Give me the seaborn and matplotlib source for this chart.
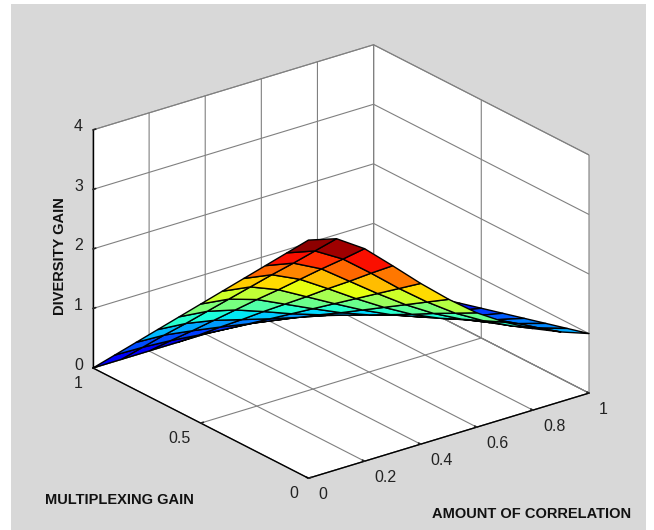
import numpy as np
import pandas as pd
import seaborn as sns
import matplotlib
matplotlib.use("Agg")
import matplotlib.pyplot as plt
from matplotlib.colors import ListedColormap
from matplotlib.patches import Rectangle
from mpl_toolkits.mplot3d import proj3d

correlation = [0.0, 0.1, 0.2, 0.3, 0.4, 0.5, 0.6, 0.7, 0.8, 0.9, 1.0]
multiplexing = [0.0, 0.1, 0.2, 0.3, 0.4, 0.5, 0.6, 0.7, 0.8, 0.9, 1.0]
gain_r00 = [4.00, 3.88, 3.57, 3.14, 2.70, 2.29, 1.92, 1.62, 1.37, 1.17, 1.00]
gain_r01 = [3.60, 3.49, 3.21, 2.83, 2.43, 2.06, 1.73, 1.46, 1.23, 1.05, 0.90]
gain_r02 = [3.20, 3.10, 2.86, 2.51, 2.16, 1.83, 1.54, 1.30, 1.10, 0.94, 0.80]
gain_r03 = [2.80, 2.72, 2.50, 2.20, 1.89, 1.60, 1.34, 1.13, 0.96, 0.82, 0.70]
gain_r04 = [2.40, 2.33, 2.14, 1.88, 1.62, 1.37, 1.15, 0.97, 0.82, 0.70, 0.60]
gain_r05 = [2.00, 1.94, 1.79, 1.57, 1.35, 1.14, 0.96, 0.81, 0.69, 0.59, 0.50]
gain_r06 = [1.60, 1.55, 1.43, 1.26, 1.08, 0.92, 0.77, 0.65, 0.55, 0.47, 0.40]
gain_r07 = [1.20, 1.16, 1.07, 0.94, 0.81, 0.69, 0.58, 0.49, 0.41, 0.35, 0.30]
gain_r08 = [0.80, 0.78, 0.71, 0.63, 0.54, 0.46, 0.38, 0.32, 0.27, 0.23, 0.20]
gain_r09 = [0.40, 0.39, 0.36, 0.31, 0.27, 0.23, 0.19, 0.16, 0.14, 0.12, 0.10]
gain_r10 = [0.00, 0.00, 0.00, 0.00, 0.00, 0.00, 0.00, 0.00, 0.00, 0.00, 0.00]
x_ticks = [0, 0.2, 0.4, 0.6, 0.8, 1]
x_labels = ["0", "0.2", "0.4", "0.6", "0.8", "1"]
y_ticks = [0, 0.5, 1]
y_labels = ["0", "0.5", "1"]
z_ticks = [0, 1, 2, 3, 4]
z_labels = ["0", "1", "2", "3", "4"]

sns.set_theme(style="white")
plt.rcParams["font.family"] = ["Liberation Sans", "DejaVu Sans"]

W, H = 654, 530
fig = plt.figure(figsize=(W / 100, H / 100), dpi=100, facecolor="white")
fig.add_artist(Rectangle((11 / W, 0), 635 / W, 526 / H, transform=fig.transFigure,
                         facecolor="#d8d8d8", edgecolor="none", zorder=-10))

ax = fig.add_axes([0.1, 0.1, 0.8, 0.8], projection="3d", proj_type="ortho")
ax.patch.set_alpha(0)
ax.view_init(elev=23.2, azim=-127.6)
ax.set_box_aspect((354, 353, 259))

X, Y = np.meshgrid(correlation, multiplexing)
Z = np.array([gain_r00, gain_r01, gain_r02, gain_r03, gain_r04, gain_r05,
              gain_r06, gain_r07, gain_r08, gain_r09, gain_r10])
jet = ListedColormap(sns.mpl_palette("jet", 64))
colors = jet(plt.Normalize(0, 4)(Z))
ax.plot_surface(X, Y, Z, facecolors=colors, rstride=1, cstride=1, shade=False,
                edgecolor="black", linewidth=1.0, antialiased=True)

ax.set_xlim(0, 1)
ax.set_ylim(0, 1)
ax.set_zlim(0, 4)
ax.set_xticks(x_ticks, [""] * len(x_ticks))
ax.set_yticks(y_ticks, [""] * len(y_ticks))
ax.set_zticks(z_ticks, [""] * len(z_ticks))

for axis in (ax.xaxis, ax.yaxis, ax.zaxis):
    axis.set_pane_color((1, 1, 1, 1))
    axis.pane.set_edgecolor("#8c8c8c")
    axis.pane.set_linewidth(0.8)
    axis.line.set_color("black")
    axis.line.set_linewidth(1.0)
    axis._axinfo["grid"].update(color="#808080", linewidth=0.8, linestyle="-")
    axis._axinfo["tick"].update(inward_factor=0.0, outward_factor=0.12)
ax.grid(True)


# Fit the 3D box to the reference's frame (left and right corners).
def corner_px(a, b, c):
    px, py, _ = proj3d.proj_transform(a, b, c, ax.get_proj())
    return ax.transData.transform((px, py))


fig.canvas.draw()
left, right = corner_px(0, 1, 0), corner_px(1, 0, 0)
scale = (589 - 93) / (right[0] - left[0])
pos = ax.get_position()
ax.set_position([pos.x0, pos.y0, pos.width * scale, pos.height * scale])
fig.canvas.draw()
left = corner_px(0, 1, 0)
dx = (93 - left[0]) / W
dy = ((H - 368) - left[1]) / H
pos = ax.get_position()
ax.set_position([pos.x0 + dx, pos.y0 + dy, pos.width, pos.height])
fig.canvas.draw()


# Tick labels sit at a fixed pixel offset from the projected tick position.
def tick_text(point, label, ox, oy, ha):
    px = corner_px(*point)
    fig.text((px[0] + ox) / W, (px[1] - oy) / H, label, ha=ha, va="center",
             fontsize=11.5, color="#222222")


for v, lab in zip(x_ticks, x_labels):
    tick_text((v, 0, 0), lab, 10, 16, "left")
for v, lab in zip(y_ticks, y_labels):
    tick_text((0, v, 0), lab, -10, 15, "right")
for v, lab in zip(z_ticks, z_labels):
    tick_text((0, 1, v), lab, -10, -3, "right")

label_font = dict(fontweight="bold", fontsize=10.5, color="#111111")
fig.text(60 / W, 1 - 256 / H, "DIVERSITY GAIN", rotation=90, ha="center", va="center", **label_font)
fig.text(45 / W, 1 - 500 / H, "MULTIPLEXING GAIN", ha="left", va="center", **label_font)
fig.text(432 / W, 1 - 514 / H, "AMOUNT OF CORRELATION", ha="left", va="center", **label_font)

fig.savefig("out.png", dpi=100, facecolor=fig.get_facecolor())
